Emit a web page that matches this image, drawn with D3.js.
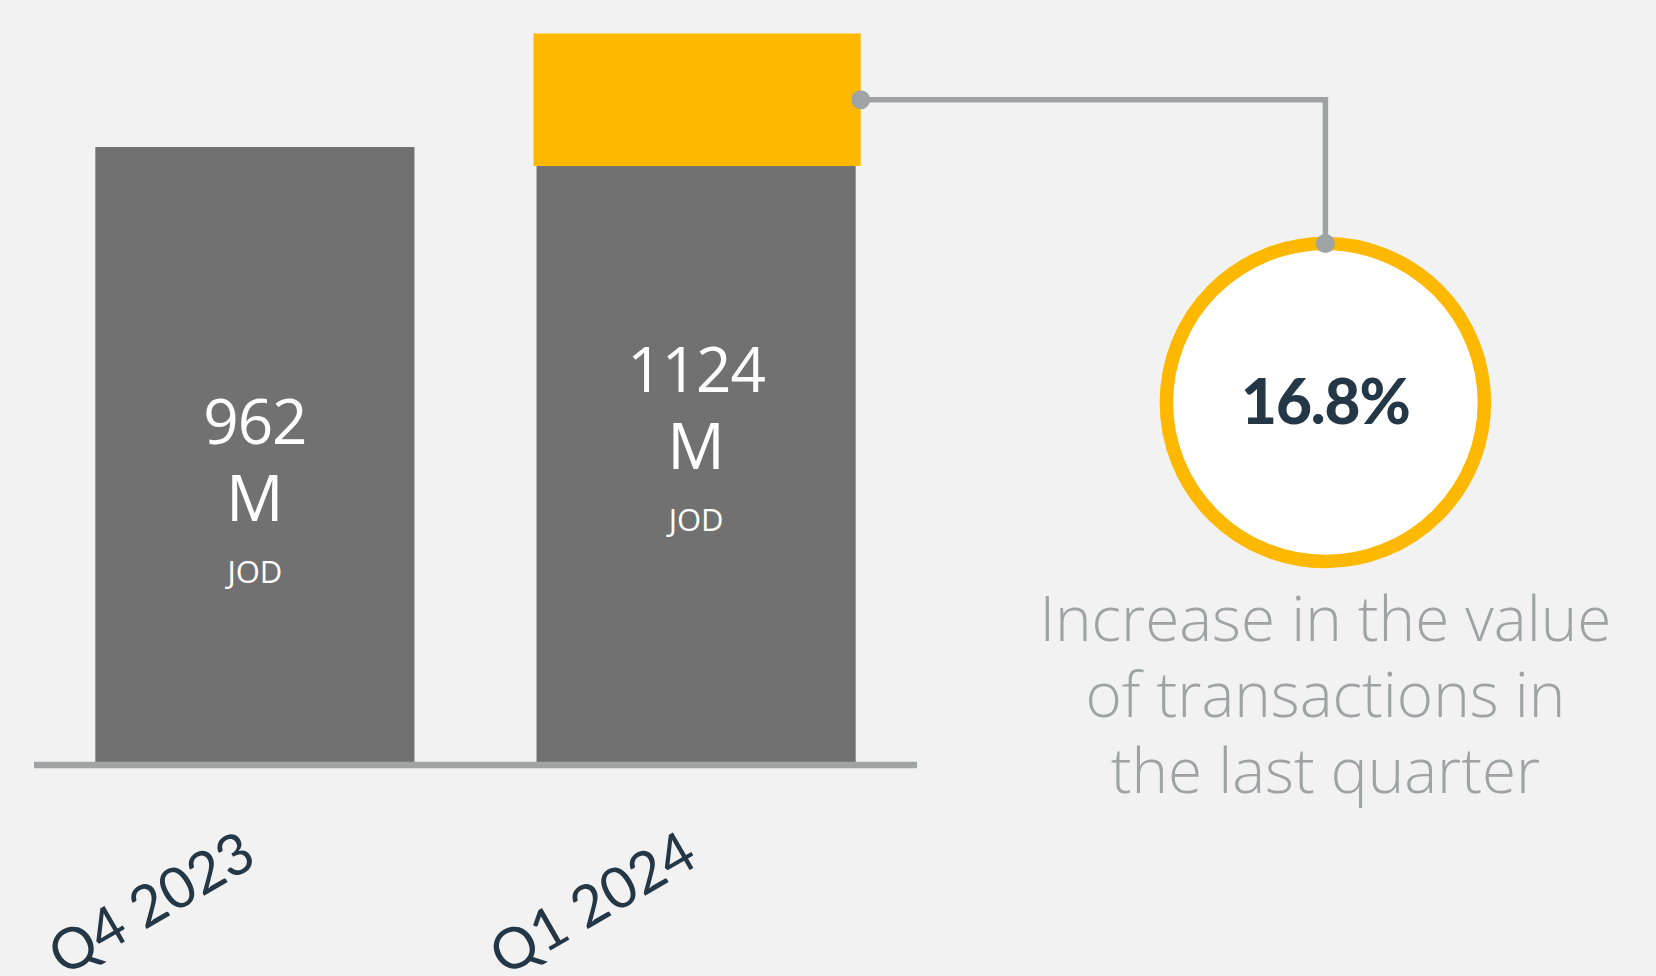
<!DOCTYPE html>
<html>
<head>
<meta charset="utf-8">
<script src="https://cdn.jsdelivr.net/npm/d3@7"></script>
<style>
  html, body { margin: 0; padding: 0; background: #f2f2f2; }
  svg { display: block; }
</style>
</head>
<body>
<svg id="chart" width="1656" height="976"></svg>
<script>
// ---- data ----
const categories = ["Q4 2023", "Q1 2024"];
const values = [962, 1124];
const valueUnit = "M";
const currency = "JOD";
const captionLines = ["Increase in the value", "of transactions in", "the last quarter"];

// ---- layout ----
const W = 1656, H = 976;
const baseY = 762;
const svg = d3.select("#chart");
svg.append("rect").attr("width", W).attr("height", H).attr("fill", "#f2f2f2");

const x = d3.scaleBand().domain(categories).range([34, 917]).paddingInner(0.2766).paddingOuter(0.139);
const y = d3.scaleLinear().domain([0, 1192]).range([baseY, 0]);

const GRAY = "#707170", YELLOW = "#ffb800", LINE = "#9fa3a3", NAVY = "#243746";

// bars
svg.append("g").selectAll("rect").data(values).join("rect")
  .attr("x", (d, i) => x(categories[i]))
  .attr("width", x.bandwidth())
  .attr("y", d => y(d))
  .attr("height", d => baseY - y(d))
  .attr("fill", GRAY);

// yellow highlight cap on the latest bar (growth band)
const last = categories.length - 1;
const capTop = y(values[last]) - 10;
const capBottom = y(values[last - 1]) + 19;
svg.append("rect")
  .attr("x", x(categories[last]) - 3)
  .attr("width", x.bandwidth() + 8)
  .attr("y", capTop)
  .attr("height", capBottom - capTop)
  .attr("fill", YELLOW);

// baseline
svg.append("line")
  .attr("x1", 34).attr("x2", 917)
  .attr("y1", baseY + 3).attr("y2", baseY + 3)
  .attr("stroke", LINE).attr("stroke-width", 6.5);

// value labels inside bars (one text element per bar, lines as tspans)
const lbl = svg.append("g").attr("fill", "#ffffff").attr("font-family", "'Open Sans', sans-serif").attr("text-anchor", "middle");
values.forEach((v, i) => {
  const cx = x(categories[i]) + x.bandwidth() / 2;
  const mid = (y(v) + baseY) / 2 - 10.5;
  const t = lbl.append("text").attr("x", cx).attr("y", mid);
  t.append("tspan").attr("x", cx).attr("font-size", 62).attr("letter-spacing", -1).text(v);
  t.append("tspan").attr("x", cx).attr("dy", 77).attr("font-size", 64).text(valueUnit);
  t.append("tspan").attr("x", cx).attr("dy", 62).attr("font-size", 31).text(currency);
});

// x-axis category labels (rotated)
svg.append("g").selectAll("text").data(categories).join("text")
  .attr("transform", d => `translate(${x(d) + x.bandwidth() / 2 + 4},${864}) rotate(-30)`)
  .attr("text-anchor", "end")
  .attr("font-family", "Lato, sans-serif")
  .attr("font-size", 57)
  .attr("fill", NAVY)
  .text(d => d);

// circle callout
const cx = 1325.4, cy = 402.5, r = 159;
svg.append("circle").attr("cx", cx).attr("cy", cy).attr("r", r)
  .attr("fill", "#ffffff").attr("stroke", YELLOW).attr("stroke-width", 13.5);

// connector
const connY = (capTop + capBottom) / 2;
const connX0 = x(categories[last]) + x.bandwidth() + 5;
svg.append("path")
  .attr("d", `M${connX0},${connY} H${cx} V${cy - r}`)
  .attr("fill", "none").attr("stroke", LINE).attr("stroke-width", 5.5);
svg.append("circle").attr("cx", connX0).attr("cy", connY).attr("r", 9.5).attr("fill", LINE);
svg.append("circle").attr("cx", cx).attr("cy", cy - r).attr("r", 9.5).attr("fill", LINE);

// percent
const pct = (values[last] - values[last - 1]) / values[last - 1] * 100;
svg.append("text").attr("x", cx).attr("y", 424)
  .attr("text-anchor", "middle")
  .attr("font-family", "Lato, sans-serif").attr("font-weight", 900)
  .attr("font-size", 62).attr("letter-spacing", -1).attr("fill", NAVY)
  .text(d3.format(".1f")(pct) + "%");

// caption
svg.append("g").selectAll("text").data(captionLines).join("text")
  .attr("x", cx).attr("y", (d, i) => 641 + i * 76)
  .attr("text-anchor", "middle")
  .attr("font-family", "'Open Sans', sans-serif").attr("font-weight", 300)
  .attr("font-size", 62).attr("fill", LINE)
  .text(d => d);
</script>
</body>
</html>
